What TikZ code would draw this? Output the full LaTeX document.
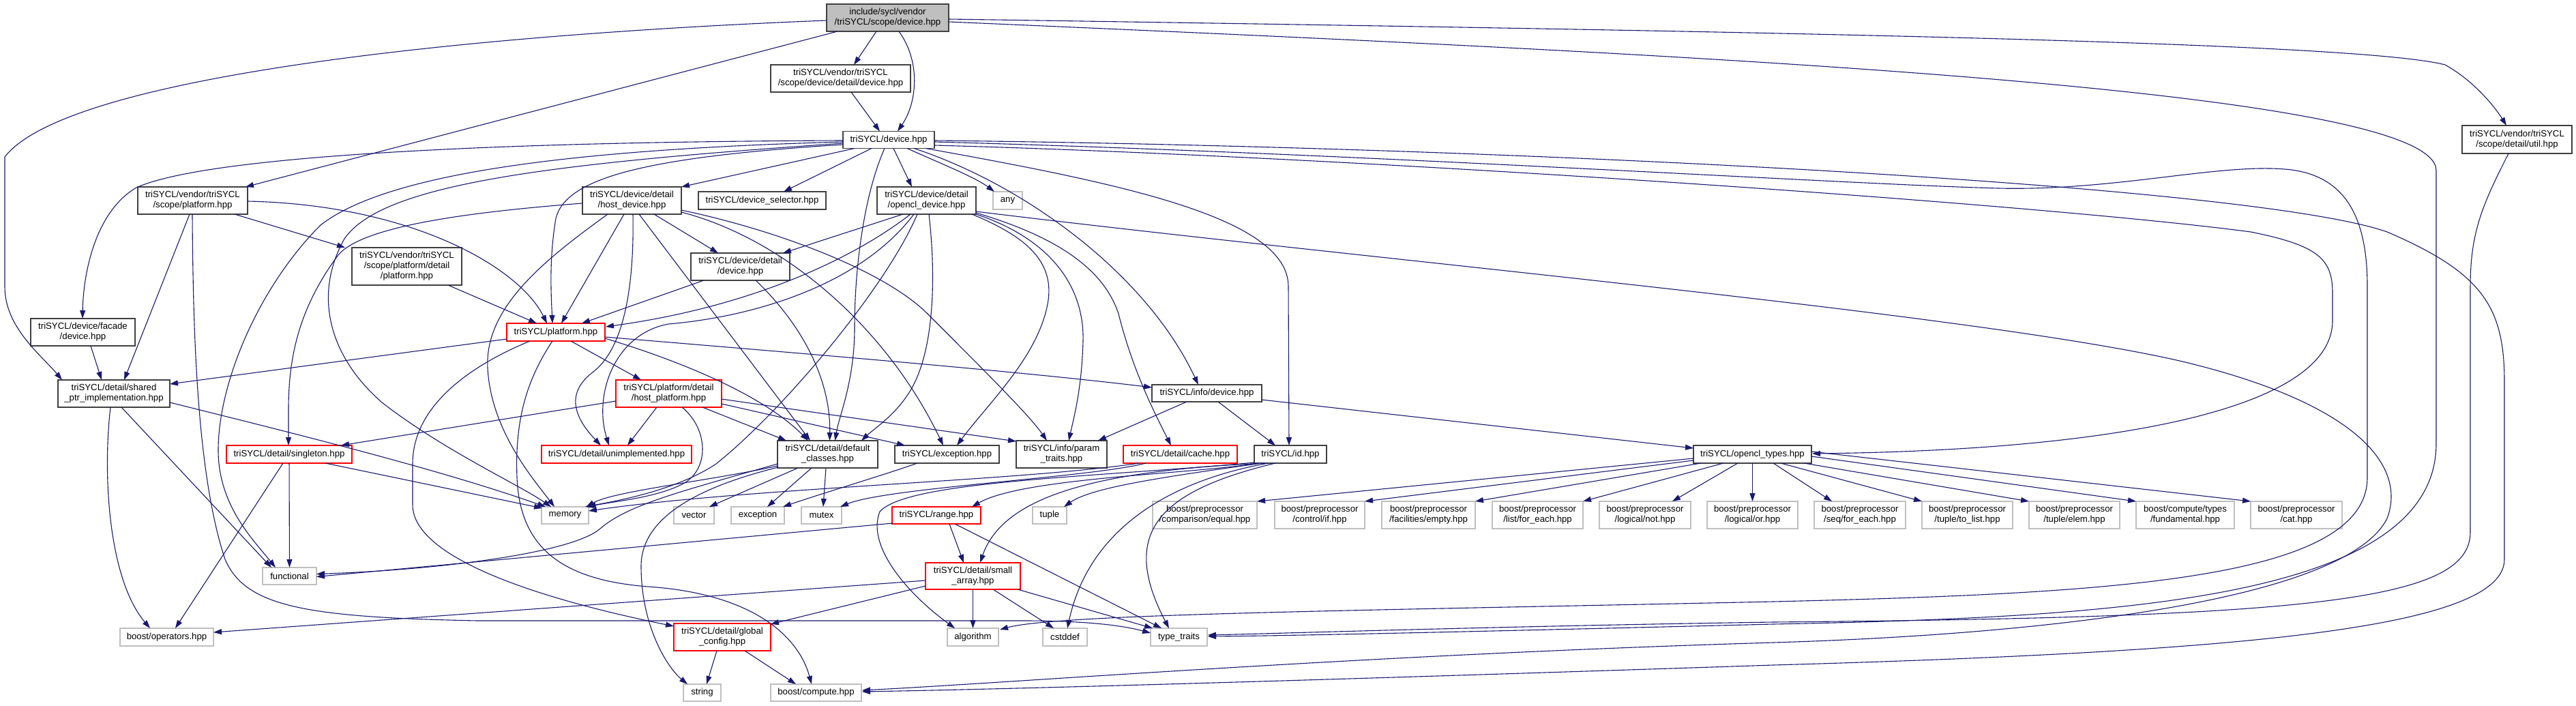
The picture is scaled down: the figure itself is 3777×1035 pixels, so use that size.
\documentclass[tikz,border=0pt]{standalone}
\usepackage{fontspec}
\newfontfamily\nf{Liberation Sans}
\usetikzlibrary{arrows.meta}
\definecolor{edgec}{HTML}{191970}
\definecolor{bdark}{HTML}{404040}
\definecolor{bgray}{HTML}{BFBFBF}
\tikzset{
  nb/.style={draw=bdark, line width=1.2pt, fill=white, inner sep=0pt, outer sep=0pt, align=center, font=\nf\fontsize{13.2}{15}\selectfont},
  nr/.style={nb, draw=red},
  ng/.style={nb, draw=bgray},
  nroot/.style={nb, fill=bgray},
  e/.style={draw=edgec, line width=1.1pt, -{Triangle[length=12pt,width=8pt]}},
}
\begin{document}
\begin{tikzpicture}[x=1pt,y=-1pt]
\fill[white] (0,0) rectangle (3777,1035);
\useasboundingbox (0,0) rectangle (3777,1035);
% nodes
\node[nroot, minimum width=179, minimum height=40] (root) at (1301.5,26) {include/sycl/vendor\\/triSYCL/scope/device.hpp};
\node[nb, minimum width=205, minimum height=40] (sdd) at (1232.5,115) {triSYCL/vendor/triSYCL\\/scope/device/detail/device.hpp};
\node[nb, minimum width=134, minimum height=25] (dev) at (1303,205) {triSYCL/device.hpp};
\node[nb, minimum width=161, minimum height=40] (vplat) at (282.5,294) {triSYCL/vendor/triSYCL\\/scope/platform.hpp};
\node[nb, minimum width=145, minimum height=40] (hostdev) at (926.5,294) {triSYCL/device/detail\\/host\_device.hpp};
\node[nb, minimum width=187, minimum height=26] (devsel) at (1117.5,294) {triSYCL/device\_selector.hpp};
\node[nb, minimum width=145, minimum height=40] (ocldev) at (1358.5,294) {triSYCL/device/detail\\/opencl\_device.hpp};
\node[ng, minimum width=43, minimum height=26] (any) at (1477.5,294) {any};
\node[nb, minimum width=161, minimum height=55] (vpdp) at (596.5,390.5) {triSYCL/vendor/triSYCL\\/scope/platform/detail\\/platform.hpp};
\node[nb, minimum width=145, minimum height=40] (dddev) at (1085.5,391) {triSYCL/device/detail\\/device.hpp};
\node[nb, minimum width=153, minimum height=40] (facade) at (121.5,487) {triSYCL/device/facade\\/device.hpp};
\node[nr, minimum width=144, minimum height=26] (platform) at (815,487) {triSYCL/platform.hpp};
\node[nb, minimum width=161, minimum height=41] (util) at (3690.5,204.5) {triSYCL/vendor/triSYCL\\/scope/detail/util.hpp};
\node[nb, minimum width=164, minimum height=40] (shared) at (167,577) {triSYCL/detail/shared\\\_ptr\_implementation.hpp};
\node[nr, minimum width=155, minimum height=40] (hostplat) at (980.5,577) {triSYCL/platform/detail\\/host\_platform.hpp};
\node[nr, minimum width=184, minimum height=26] (singleton) at (424,666) {triSYCL/detail/singleton.hpp};
\node[nr, minimum width=220, minimum height=26] (unimpl) at (904,666) {triSYCL/detail/unimplemented.hpp};
\node[nb, minimum width=147, minimum height=40] (defcls) at (1213.5,666) {triSYCL/detail/default\\\_classes.hpp};
\node[ng, minimum width=69, minimum height=25] (memory) at (828.5,755.5) {memory};
\node[ng, minimum width=59, minimum height=25] (vector) at (1017.5,755.5) {vector};
\node[ng, minimum width=78, minimum height=25] (exception) at (1111,755.5) {exception};
\node[ng, minimum width=59, minimum height=25] (mutex) at (1204.5,755.5) {mutex};
\node[ng, minimum width=79, minimum height=25] (functional) at (424.5,844.5) {functional};
\node[ng, minimum width=137, minimum height=26] (boostops) at (244.5,934) {boost/operators.hpp};
\node[nr, minimum width=142, minimum height=40] (globalcfg) at (1059,934) {triSYCL/detail/global\\\_config.hpp};
\node[ng, minimum width=55, minimum height=25] (string) at (1029.5,1015.5) {string};
\node[ng, minimum width=133, minimum height=25] (boostcomp) at (1196.5,1015.5) {boost/compute.hpp};
\node[nb, minimum width=161, minimum height=25] (infodev) at (1769.5,576.5) {triSYCL/info/device.hpp};
\node[nb, minimum width=153, minimum height=26] (exchpp) at (1388.5,666) {triSYCL/exception.hpp};
\node[nb, minimum width=133, minimum height=40] (param) at (1556.5,666) {triSYCL/info/param\\\_traits.hpp};
\node[nr, minimum width=167, minimum height=26] (cache) at (1730.5,666) {triSYCL/detail/cache.hpp};
\node[nb, minimum width=106, minimum height=26] (id) at (1892,666) {triSYCL/id.hpp};
\node[nb, minimum width=173, minimum height=26] (ocltypes) at (2569.5,666) {triSYCL/opencl\_types.hpp};
\node[nr, minimum width=130, minimum height=25] (range) at (1373,755.5) {triSYCL/range.hpp};
\node[ng, minimum width=50, minimum height=25] (tuple) at (1539,755.5) {tuple};
\node[ng, minimum width=153, minimum height=40] (peq) at (1766.5,755) {boost/preprocessor\\/comparison/equal.hpp};
\node[ng, minimum width=132, minimum height=40] (pif) at (1935,755) {boost/preprocessor\\/control/if.hpp};
\node[ng, minimum width=137, minimum height=40] (pempty) at (2094.5,755) {boost/preprocessor\\/facilities/empty.hpp};
\node[ng, minimum width=133, minimum height=40] (plistfe) at (2254.5,755) {boost/preprocessor\\/list/for\_each.hpp};
\node[ng, minimum width=134, minimum height=40] (pnot) at (2412,755) {boost/preprocessor\\/logical/not.hpp};
\node[ng, minimum width=133, minimum height=40] (por) at (2569.5,755) {boost/preprocessor\\/logical/or.hpp};
\node[ng, minimum width=134, minimum height=40] (pseqfe) at (2727,755) {boost/preprocessor\\/seq/for\_each.hpp};
\node[ng, minimum width=133, minimum height=40] (ptolist) at (2884.5,755) {boost/preprocessor\\/tuple/to\_list.hpp};
\node[ng, minimum width=133, minimum height=40] (pelem) at (3041.5,755) {boost/preprocessor\\/tuple/elem.hpp};
\node[ng, minimum width=144, minimum height=40] (pfund) at (3204,755) {boost/compute/types\\/fundamental.hpp};
\node[ng, minimum width=134, minimum height=40] (pcat) at (3367,755) {boost/preprocessor\\/cat.hpp};
\node[nr, minimum width=139, minimum height=39] (smallarr) at (1426.5,844.5) {triSYCL/detail/small\\\_array.hpp};
\node[ng, minimum width=75, minimum height=26] (algorithm) at (1426.5,934) {algorithm};
\node[ng, minimum width=65, minimum height=26] (cstddef) at (1561.5,934) {cstddef};
\node[ng, minimum width=83, minimum height=26] (tt) at (1728.5,934) {type\_traits};
% edges from root
\draw[e] ([shift={(-16.5,20)}]root.center) -- ([shift={(19.5,-20)}]sdd.center);
\draw[e] ([shift={(16.5,20)}]root.center) .. controls (1350,90) and (1345,150) .. ([shift={(13,-12.5)}]dev.center);
\draw[e] ([shift={(-73.5,20)}]root.center) -- ([shift={(77.5,-20)}]vplat.center);
\draw[e] ([shift={(-89.5,4)}]root.center) .. controls (700,50) and (100,110) .. (7,230) -- (7,420) .. controls (7,480) and (60,520) .. ([shift={(-76,-20)}]shared.center);
\draw[e] ([shift={(89.5,2)}]root.center) .. controls (2500,45) and (3450,60) .. (3585,95) .. controls (3630,120) and (3660,160) .. ([shift={(-15.5,-20.5)}]util.center);
\draw[e] ([shift={(89.5,6)}]root.center) .. controls (2500,80) and (3572,130) .. (3572,250) -- (3572,650) .. controls (3572,880) and (3100,905) .. (2600,915) .. controls (2200,925) and (1900,932) .. ([shift={(42.5,-1)}]tt.center);
\draw[e] ([shift={(-12.5,20.5)}]util.center) .. controls (3640,300) and (3622,340) .. (3622,420) -- (3622,780) .. controls (3622,880) and (3400,905) .. (2600,912) .. controls (2200,918) and (1900,928) .. ([shift={(42.5,-3)}]tt.center);
\draw[e] ([shift={(15.5,20)}]sdd.center) -- ([shift={(-13,-12.5)}]dev.center);
% edges from dev
\draw[e] ([shift={(-67,1)}]dev.center) .. controls (700,208) and (300,230) .. (200,275) .. controls (140,310) and (122,400) .. ([shift={(-0.5,-20)}]facade.center);
\draw[e] ([shift={(-67,3)}]dev.center) .. controls (800,220) and (560,260) .. (470,330) .. controls (380,420) and (320,560) .. (320,660) .. controls (320,740) and (370,790) .. ([shift={(-20.5,-12.5)}]functional.center);
\draw[e] ([shift={(-67,5)}]dev.center) .. controls (800,240) and (560,270) .. (505,350) .. controls (460,430) and (480,520) .. (560,590) .. controls (650,660) and (760,710) .. ([shift={(-20.5,-12.5)}]memory.center);
\draw[e] ([shift={(-67,7)}]dev.center) .. controls (950,230) and (830,260) .. (815,320) .. controls (805,380) and (808,430) .. ([shift={(-5,-13)}]platform.center);
\draw[e] ([shift={(-50,12.5)}]dev.center) -- ([shift={(72.5,-20)}]hostdev.center);
\draw[e] ([shift={(-25,12.5)}]dev.center) -- ([shift={(31.5,-13)}]devsel.center);
\draw[e] ([shift={(7,12.5)}]dev.center) -- ([shift={(-21.5,-20)}]ocldev.center);
\draw[e] ([shift={(27,12.5)}]dev.center) .. controls (1380,240) and (1430,260) .. ([shift={(-19.5,-13)}]any.center);
\draw[e] ([shift={(-6,12.5)}]dev.center) .. controls (1265,290) and (1253,400) .. (1253,480) .. controls (1253,560) and (1230,610) .. ([shift={(11,-20)}]defcls.center);
\draw[e] ([shift={(37,12.5)}]dev.center) .. controls (1500,270) and (1680,400) .. ([shift={(-12.5,-12.5)}]infodev.center);
\draw[e] ([shift={(54,12.5)}]dev.center) .. controls (1650,270) and (1889,320) .. (1889,420) -- ([shift={(-2,-13)}]id.center);
\draw[e] ([shift={(67,8)}]dev.center) .. controls (2000,230) and (3000,300) .. (3300,340) .. controls (3400,360) and (3420,380) .. (3420,430) -- (3420,470) .. controls (3420,600) and (3100,660) .. ([shift={(87.5,-1)}]ocltypes.center);
\draw[e] ([shift={(67,3)}]dev.center) .. controls (2000,225) and (2700,270) .. (2930,276) .. controls (3100,280) and (3250,240) .. (3350,248) .. controls (3440,255) and (3471,320) .. (3471,420) -- (3471,700) .. controls (3471,850) and (3100,870) .. (2600,882) .. controls (2000,895) and (1550,900) .. ([shift={(39.5,-11)}]algorithm.center);
\draw[e] ([shift={(67,1)}]dev.center) .. controls (2200,215) and (3300,270) .. (3500,340) .. controls (3640,400) and (3672,450) .. (3672,560) -- (3672,820) .. controls (3672,920) and (3300,955) .. (2600,975) .. controls (2000,995) and (1500,1010) .. ([shift={(67.5,-1.5)}]boostcomp.center);
% vplat, vpdp
\draw[e] ([shift={(61.5,20)}]vplat.center) -- ([shift={(-90.5,-27.5)}]vpdp.center);
\draw[e] ([shift={(80.5,1)}]vplat.center) .. controls (600,300) and (760,390) .. ([shift={(-13,-13)}]platform.center);
\draw[e] ([shift={(-4.5,20)}]vplat.center) -- ([shift={(15,-20)}]shared.center);
\draw[e] ([shift={(-0.5,20)}]vplat.center) .. controls (283,500) and (290,700) .. (330,820) .. controls (360,890) and (450,905) .. (700,910) -- (1500,910) .. controls (1600,910) and (1650,918) .. ([shift={(-41.5,-6)}]tt.center);
\draw[e] ([shift={(60.5,27.5)}]vpdp.center) -- ([shift={(-28,-13)}]platform.center);
% hostdev
\draw[e] ([shift={(-72.5,4)}]hostdev.center) .. controls (700,310) and (530,330) .. (495,375) .. controls (440,450) and (423,520) .. (423,600) -- ([shift={(-1,-13)}]singleton.center);
\draw[e] ([shift={(-11.5,20)}]hostdev.center) -- ([shift={(8,-13)}]platform.center);
\draw[e] ([shift={(-35.5,20)}]hostdev.center) .. controls (800,380) and (710,450) .. (715,540) .. controls (720,630) and (780,700) .. ([shift={(-15.5,-12.5)}]memory.center);
\draw[e] ([shift={(1.5,20)}]hostdev.center) .. controls (930,420) and (915,510) .. (870,545) .. controls (830,575) and (840,610) .. ([shift={(-23,-13)}]unimpl.center);
\draw[e] ([shift={(10.5,20)}]hostdev.center) -- ([shift={(-25.5,-20)}]defcls.center);
\draw[e] ([shift={(32.5,20)}]hostdev.center) -- ([shift={(-32.5,-20)}]dddev.center);
\draw[e] ([shift={(72.5,17)}]hostdev.center) .. controls (1150,350) and (1300,480) .. ([shift={(-5.5,-13)}]exchpp.center);
\draw[e] ([shift={(72.5,14)}]hostdev.center) .. controls (1150,340) and (1300,400) .. (1360,460) .. controls (1450,550) and (1510,610) .. ([shift={(-21.5,-20)}]param.center);
% ocldev
\draw[e] ([shift={(-34.5,20)}]ocldev.center) -- ([shift={(62.5,-20)}]dddev.center);
\draw[e] ([shift={(-23.5,20)}]ocldev.center) .. controls (1250,380) and (1100,450) .. ([shift={(73,-8)}]platform.center);
\draw[e] ([shift={(-18.5,20)}]ocldev.center) .. controls (1260,420) and (1100,465) .. (980,475) .. controls (900,490) and (870,580) .. ([shift={(-11,-13)}]unimpl.center);
\draw[e] ([shift={(-13.5,20)}]ocldev.center) .. controls (1300,420) and (1150,600) .. (1050,680) .. controls (990,720) and (900,735) .. ([shift={(29.5,-12.5)}]memory.center);
\draw[e] ([shift={(3.5,20)}]ocldev.center) .. controls (1372,400) and (1372,520) .. (1330,580) .. controls (1310,610) and (1280,630) .. ([shift={(49.5,-20)}]defcls.center);
\draw[e] ([shift={(66.5,20)}]ocldev.center) .. controls (1500,345) and (1545,380) .. (1537,440) .. controls (1525,520) and (1450,590) .. ([shift={(14.5,-13)}]exchpp.center);
\draw[e] ([shift={(72.5,20)}]ocldev.center) .. controls (1540,350) and (1590,420) .. (1588,500) .. controls (1586,570) and (1575,610) .. ([shift={(10.5,-20)}]param.center);
\draw[e] ([shift={(72.5,18)}]ocldev.center) .. controls (1560,350) and (1620,400) .. (1640,460) .. controls (1660,540) and (1690,600) .. ([shift={(-13.5,-13)}]cache.center);
\draw[e] ([shift={(72.5,16)}]ocldev.center) .. controls (2000,380) and (2900,460) .. (3200,530) .. controls (3450,590) and (3530,680) .. (3500,760) .. controls (3440,880) and (3000,930) .. (2600,942) .. controls (2000,960) and (1500,1000) .. ([shift={(67.5,-3.5)}]boostcomp.center);
% dddev, facade
\draw[e] ([shift={(-53.5,20)}]dddev.center) -- ([shift={(38,-13)}]platform.center);
\draw[e] ([shift={(22.5,20)}]dddev.center) .. controls (1180,480) and (1218,560) .. ([shift={(3,-20)}]defcls.center);
\draw[e] ([shift={(11.5,20)}]facade.center) -- ([shift={(-18,-20)}]shared.center);
% platform
\draw[e] ([shift={(-72,10)}]platform.center) -- ([shift={(82,-14)}]shared.center);
\draw[e] ([shift={(22,13)}]platform.center) -- ([shift={(-40.5,-20)}]hostplat.center);
\draw[e] ([shift={(-38,13)}]platform.center) .. controls (680,540) and (605,600) .. (605,680) -- (605,740) .. controls (605,820) and (800,880) .. ([shift={(-71,-16)}]globalcfg.center);
\draw[e] ([shift={(-5,13)}]platform.center) .. controls (770,560) and (755,620) .. (758,700) .. controls (762,800) and (820,850) .. (950,860) .. controls (1100,870) and (1170,930) .. ([shift={(-6.5,-12.5)}]boostcomp.center);
\draw[e] ([shift={(72,9)}]platform.center) .. controls (1000,530) and (1120,580) .. ([shift={(-28.5,-20)}]defcls.center);
\draw[e] ([shift={(72,7)}]platform.center) .. controls (1200,520) and (1500,545) .. ([shift={(-80.5,-8.5)}]infodev.center);
% hostplat
\draw[e] ([shift={(-77.5,11)}]hostplat.center) -- ([shift={(76,-13)}]singleton.center);
\draw[e] ([shift={(-17.5,20)}]hostplat.center) -- ([shift={(16,-13)}]unimpl.center);
\draw[e] ([shift={(49.5,20)}]hostplat.center) -- ([shift={(-60.5,-20)}]defcls.center);
\draw[e] ([shift={(19.5,20)}]hostplat.center) .. controls (1040,630) and (1040,690) .. (1000,710) .. controls (960,730) and (900,735) .. ([shift={(33,-12.5)}]memory.center);
\draw[e] ([shift={(77.5,15)}]hostplat.center) -- ([shift={(-61.5,-13)}]exchpp.center);
\draw[e] ([shift={(77.5,8)}]hostplat.center) -- ([shift={(-66.5,-19)}]param.center);
% singleton, shared
\draw[e] ([shift={(53,13)}]singleton.center) -- ([shift={(-33.5,-10.5)}]memory.center);
\draw[e] (singleton) -- (functional);
\draw[e] ([shift={(-9,13)}]singleton.center) -- ([shift={(12.5,-13)}]boostops.center);
\draw[e] ([shift={(82,13)}]shared.center) .. controls (450,640) and (650,690) .. ([shift={(-28.5,-12.5)}]memory.center);
\draw[e] ([shift={(11,20)}]shared.center) -- ([shift={(-26.5,-12.5)}]functional.center);
\draw[e] ([shift={(-5,20)}]shared.center) .. controls (150,700) and (160,850) .. ([shift={(-24.5,-13)}]boostops.center);
% defcls
\draw[e] ([shift={(-73.5,17)}]defcls.center) .. controls (1040,705) and (900,720) .. ([shift={(31,-12.5)}]memory.center);
\draw[e] ([shift={(-43.5,20)}]defcls.center) -- ([shift={(22.5,-12.5)}]vector.center);
\draw[e] ([shift={(-23.5,20)}]defcls.center) -- ([shift={(14,-12.5)}]exception.center);
\draw[e] ([shift={(-2.5,20)}]defcls.center) -- ([shift={(2.5,-12.5)}]mutex.center);
\draw[e] ([shift={(-72.5,19)}]defcls.center) .. controls (1020,715) and (940,760) .. (940,830) .. controls (940,920) and (980,980) .. ([shift={(-21.5,-12.5)}]string.center);
\draw[e] ([shift={(-73.5,14)}]defcls.center) .. controls (1000,720) and (920,740) .. (880,775) .. controls (840,810) and (650,835) .. ([shift={(39.5,-3)}]functional.center);
% globalcfg
\draw[e] ([shift={(-8,20)}]globalcfg.center) -- ([shift={(6.5,-12.5)}]string.center);
\draw[e] ([shift={(33,20)}]globalcfg.center) -- ([shift={(-29.5,-12.5)}]boostcomp.center);
% infodev, exchpp, cache
\draw[e] ([shift={(-29.5,12.5)}]infodev.center) -- ([shift={(53.5,-20)}]param.center);
\draw[e] ([shift={(16.5,12.5)}]infodev.center) -- ([shift={(-22,-13)}]id.center);
\draw[e] ([shift={(80.5,9.5)}]infodev.center) -- ([shift={(-86.5,-9)}]ocltypes.center);
\draw[e] ([shift={(-43.5,13)}]exchpp.center) .. controls (1300,695) and (1200,725) .. ([shift={(37,-12.5)}]exception.center);
\draw[e] ([shift={(-50.5,13)}]cache.center) .. controls (1600,700) and (1300,715) .. ([shift={(27.5,-12.5)}]mutex.center);
\draw[e] ([shift={(-60.5,13)}]cache.center) .. controls (1500,705) and (1100,715) .. ([shift={(34.5,-6.5)}]memory.center);
% id
\draw[e] ([shift={(-47,13)}]id.center) .. controls (1750,695) and (1500,700) .. ([shift={(52,-12.5)}]range.center);
\draw[e] ([shift={(-42,13)}]id.center) .. controls (1700,700) and (1600,715) .. ([shift={(21,-12.5)}]tuple.center);
\draw[e] ([shift={(-37,13)}]id.center) .. controls (1600,690) and (1470,730) .. ([shift={(10.5,-19.5)}]smallarr.center);
\draw[e] ([shift={(-32,13)}]id.center) .. controls (1740,700) and (1600,760) .. ([shift={(3.5,-13)}]cstddef.center);
\draw[e] ([shift={(-22,13)}]id.center) .. controls (1700,720) and (1640,780) .. ([shift={(-14.5,-13)}]tt.center);
\draw[e] ([shift={(-52,12)}]id.center) .. controls (1600,700) and (1330,705) .. (1290,750) .. controls (1270,800) and (1330,870) .. ([shift={(-26.5,-13)}]algorithm.center);
% range, small array
\draw[e] ([shift={(19,12.5)}]range.center) -- ([shift={(-13.5,-19.5)}]smallarr.center);
\draw[e] ([shift={(27,12.5)}]range.center) -- ([shift={(-25.5,-13)}]tt.center);
\draw[e] ([shift={(-64,11.5)}]range.center) -- ([shift={(39.5,1)}]functional.center);
\draw[e] (smallarr) -- (algorithm);
\draw[e] ([shift={(29.5,19.5)}]smallarr.center) -- ([shift={(-16.5,-13)}]cstddef.center);
\draw[e] ([shift={(65.5,19.5)}]smallarr.center) -- ([shift={(-38.5,-13)}]tt.center);
\draw[e] ([shift={(-69.5,6.5)}]smallarr.center) -- ([shift={(68.5,-7)}]boostops.center);
\draw[e] ([shift={(-69.5,14.5)}]smallarr.center) -- ([shift={(71,-19)}]globalcfg.center);
% opencl types
\draw[e] ([shift={(-86.5,6)}]ocltypes.center) -- ([shift={(76.5,-20)}]peq.center);
\draw[e] ([shift={(-86.5,9)}]ocltypes.center) -- ([shift={(66,-20)}]pif.center);
\draw[e] ([shift={(-75.5,13)}]ocltypes.center) -- ([shift={(68.5,-20)}]pempty.center);
\draw[e] ([shift={(-42.5,13)}]ocltypes.center) -- ([shift={(66.5,-20)}]plistfe.center);
\draw[e] ([shift={(-21.5,13)}]ocltypes.center) -- ([shift={(40,-20)}]pnot.center);
\draw[e] ([shift={(0,13)}]ocltypes.center) -- ([shift={(0,-20)}]por.center);
\draw[e] ([shift={(30.5,13)}]ocltypes.center) -- ([shift={(-41,-20)}]pseqfe.center);
\draw[e] ([shift={(41.5,13)}]ocltypes.center) -- ([shift={(-66.5,-20)}]ptolist.center);
\draw[e] ([shift={(75.5,13)}]ocltypes.center) -- ([shift={(-66.5,-20)}]pelem.center);
\draw[e] ([shift={(86.5,3)}]ocltypes.center) -- ([shift={(-72,-20)}]pfund.center);
\draw[e] ([shift={(86.5,-4)}]ocltypes.center) -- ([shift={(-67,-20)}]pcat.center);
\end{tikzpicture}
\end{document}
